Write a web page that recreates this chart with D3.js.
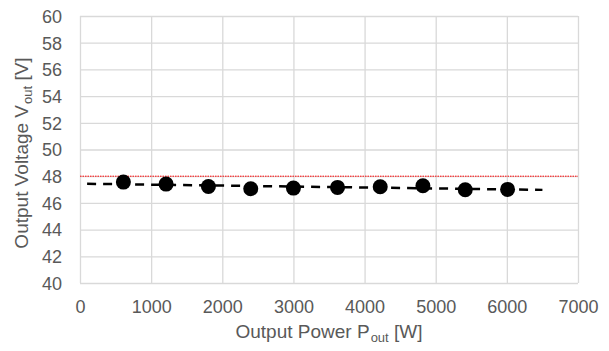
<!DOCTYPE html>
<html>
<head>
<meta charset="utf-8">
<script src="https://cdn.jsdelivr.net/npm/d3@7"></script>
<style>
  body { margin: 0; background: #fff; }
  svg { display: block; font-family: "Liberation Sans", Arial, sans-serif; }
</style>
</head>
<body>
<svg id="chart"></svg>
<script>
// measured output power [W] and output voltage [V]
const powerOut = [610, 1210, 1805, 2400, 3000, 3620, 4220, 4820, 5415, 6010]
const voltageOut = [47.56, 47.41, 47.23, 47.06, 47.11, 47.16, 47.21, 47.29, 46.99, 47.01]
const refVoltage = 48
const trendRange = [100, 6500]
const xTicks = [0, 1000, 2000, 3000, 4000, 5000, 6000, 7000]
const yTicks = [40, 42, 44, 46, 48, 50, 52, 54, 56, 58, 60]

const width = 609, height = 351
const margin = {top: 16, right: 31, bottom: 68, left: 80}
const grey = "#d9d9d9", textColor = "#595959"

const svg = d3.select("#chart")
  .attr("width", width)
  .attr("height", height)

const x = d3.scaleLinear().domain([0, 7000]).range([margin.left, width - margin.right])
const y = d3.scaleLinear().domain([40, 60]).range([height - margin.bottom, margin.top])

// gridlines
svg.append("g")
  .attr("transform", `translate(0,${height - margin.bottom})`)
  .call(d3.axisBottom(x).tickValues(xTicks).tickSize(-(height - margin.top - margin.bottom)).tickFormat(""))
  .call(g => g.select(".domain").remove())
  .selectAll("line").attr("stroke", grey).attr("stroke-width", 1.3)

svg.append("g")
  .attr("transform", `translate(${margin.left},0)`)
  .call(d3.axisLeft(y).tickValues(yTicks).tickSize(-(width - margin.left - margin.right)).tickFormat(""))
  .call(g => g.select(".domain").remove())
  .selectAll("line").attr("stroke", grey).attr("stroke-width", 1.3)

// tick labels
svg.append("g")
  .attr("transform", `translate(0,${height - margin.bottom})`)
  .call(d3.axisBottom(x).tickValues(xTicks).tickSize(0).tickPadding(0).tickFormat(d3.format("d")))
  .call(g => g.select(".domain").remove())
  .selectAll("text")
  .attr("dy", null)
  .attr("y", 30)
  .attr("fill", textColor)
  .attr("font-size", 18)
  .attr("font-family", "Liberation Sans, Arial, sans-serif")

svg.append("g")
  .attr("transform", `translate(${margin.left},0)`)
  .call(d3.axisLeft(y).tickValues(yTicks).tickSize(0).tickPadding(0).tickFormat(d3.format("d")))
  .call(g => g.select(".domain").remove())
  .selectAll("text")
  .attr("x", -18)
  .attr("dy", "0.35em")
  .attr("fill", textColor)
  .attr("font-size", 18)
  .attr("font-family", "Liberation Sans, Arial, sans-serif")

// reference line at 48 V
svg.append("line")
  .attr("x1", x(0)).attr("x2", x(7000))
  .attr("y1", y(refVoltage)).attr("y2", y(refVoltage))
  .attr("stroke", "#ff0000")
  .attr("stroke-width", 1)
  .attr("stroke-dasharray", "1.5,1")

// linear trend
const mx = d3.mean(powerOut), my = d3.mean(voltageOut)
const slope = d3.sum(powerOut, (p, i) => (p - mx) * (voltageOut[i] - my)) / d3.sum(powerOut, p => (p - mx) ** 2)
const trend = trendRange.map(p => [p, my + slope * (p - mx)])

svg.append("path")
  .datum(trend)
  .attr("fill", "none")
  .attr("stroke", "#000")
  .attr("stroke-width", 2.5)
  .attr("stroke-dasharray", "9,7")
  .attr("d", d3.line().x(d => x(d[0])).y(d => y(d[1])))

// points
svg.append("g")
  .selectAll("circle")
  .data(powerOut)
  .enter().append("circle")
  .attr("cx", d => x(d))
  .attr("cy", (d, i) => y(voltageOut[i]))
  .attr("r", 7.5)
  .attr("fill", "#000")

// axis titles
const xTitle = svg.append("text")
  .attr("x", 329)
  .attr("y", 338)
  .attr("text-anchor", "middle")
  .attr("fill", textColor)
  .attr("font-size", 19)
xTitle.append("tspan").text("Output Power P")
xTitle.append("tspan").attr("font-size", 13).attr("dx", 1).attr("dy", 4).text("out")
xTitle.append("tspan").attr("dy", -4).text(" [W]")

const yTitle = svg.append("text")
  .attr("transform", `translate(28,153) rotate(-90)`)
  .attr("text-anchor", "middle")
  .attr("fill", textColor)
  .attr("font-size", 19)
yTitle.append("tspan").text("Output Voltage V")
yTitle.append("tspan").attr("font-size", 13).attr("dx", 1).attr("dy", 4).text("out")
yTitle.append("tspan").attr("dy", -4).text(" [V]")
</script>
</body>
</html>
